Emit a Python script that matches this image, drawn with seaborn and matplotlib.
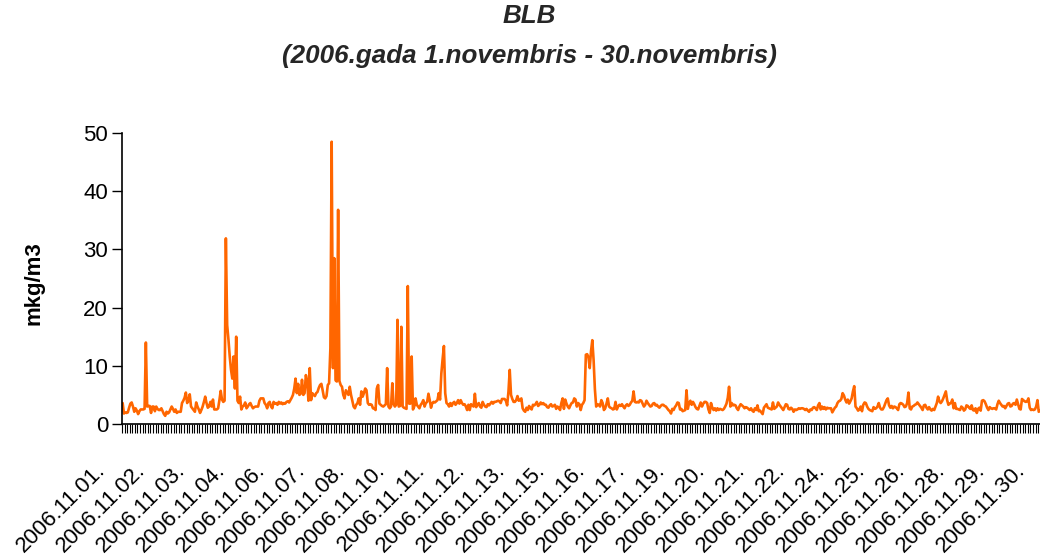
import numpy as np
import pandas as pd
import matplotlib
matplotlib.use("Agg")
import matplotlib.pyplot as plt
import matplotlib.transforms as mtransforms
from matplotlib.ticker import FixedLocator
import seaborn as sns

title_line1 = "BLB"
title_line2 = "(2006.gada 1.novembris - 30.novembris)"
y_label = "mkg/m3"
n_hours = 720
label_interval = 31
y_ticks = [0, 10, 20, 30, 40, 50]
tick_labels = ["2006.11.01.", "2006.11.02.", "2006.11.03.", "2006.11.04.", "2006.11.06.",
               "2006.11.07.", "2006.11.08.", "2006.11.10.", "2006.11.11.", "2006.11.12.",
               "2006.11.13.", "2006.11.15.", "2006.11.16.", "2006.11.17.", "2006.11.19.",
               "2006.11.20.", "2006.11.21.", "2006.11.22.", "2006.11.24.", "2006.11.25.",
               "2006.11.26.", "2006.11.28.", "2006.11.29.", "2006.11.30."]

# hourly concentration values (visible part of the series)
concentration = [
    3.6, 1.8, 2.0, 1.9, 2.0, 2.8, 3.5, 3.7, 3.0, 2.1, 2.7, 2.3, 1.7, 2.2, 2.5, 2.5, 2.5, 2.6, 14.0, 3.0, 3.1, 3.1, 1.9, 3.0,
    3.0, 2.2, 3.0, 2.6, 2.4, 2.4, 2.7, 2.2, 1.7, 1.4, 2.1, 1.8, 2.0, 2.5, 3.0, 2.6, 2.1, 2.5, 1.9, 2.1, 2.1, 2.1, 3.6,
    4.0, 4.5, 5.4, 3.6, 4.0, 5.1, 3.0, 2.7, 2.4, 2.1, 3.7, 3.0, 2.5, 1.9, 2.4, 3.0, 3.8, 4.7, 3.6, 2.8, 3.0, 3.8, 3.0, 4.2,
    2.5, 2.5, 2.5, 2.7, 4.1, 5.7, 4.2, 3.8, 4.0, 31.9, 17.0, 14.5, 11.6, 9.3, 7.8, 11.6, 6.1, 15.0, 4.0, 3.6, 4.7, 2.5, 3.0, 3.2,
    3.7, 2.7, 3.0, 3.4, 3.6, 3.1, 2.7, 2.9, 3.0, 3.0, 3.0, 4.0, 4.4, 4.4, 4.4, 3.6, 3.3, 2.7, 3.6, 3.8, 3.0, 2.7, 3.8, 3.5,
    3.6, 3.3, 3.8, 3.5, 3.7, 3.4, 3.6, 3.5, 3.8, 3.9, 3.7, 4.1, 4.5, 5.0, 6.1, 7.8, 5.3, 6.9, 5.0, 5.2, 7.6, 5.0, 5.3,
    8.4, 7.5, 4.0, 9.6, 4.1, 5.3, 5.0, 4.8, 5.3, 5.5, 6.2, 6.7, 6.9, 5.8, 4.6, 4.4, 4.8, 6.7, 7.0, 13.0, 48.5, 9.6, 28.5, 7.5,
    7.3, 36.8, 7.4, 6.7, 6.4, 5.0, 4.4, 5.8, 5.4, 5.0, 6.4, 5.0, 4.0, 3.0, 2.7, 3.3, 3.6, 4.4, 3.3, 5.6, 4.7, 5.3, 6.1, 5.8,
    3.6, 3.3, 3.4, 3.3, 2.7, 2.7, 2.4, 6.1, 6.7, 3.5, 3.3, 3.1, 3.0, 3.2, 3.4, 9.6, 3.0, 2.7, 3.0, 7.0, 3.4, 3.0, 3.3,
    17.9, 3.0, 3.1, 16.7, 3.0, 2.8, 2.7, 2.6, 23.7, 3.5, 3.5, 11.6, 2.5, 3.0, 4.4, 3.3, 3.0, 2.7, 3.3, 3.6, 4.1, 3.0, 3.6, 3.8,
    5.2, 4.1, 2.8, 3.6, 3.8, 3.7, 3.9, 4.1, 5.3, 4.2, 8.7, 11.2, 13.4, 5.3, 3.6, 3.4, 3.0, 3.6, 3.1, 3.6, 3.8, 3.3, 3.6, 4.1,
    3.5, 4.1, 3.6, 3.3, 3.4, 3.0, 2.4, 3.3, 2.4, 3.4, 3.2, 3.0, 5.2, 2.9, 3.3, 3.6, 3.0, 2.8, 3.8, 3.3, 3.0, 2.9, 3.4, 3.2,
    3.5, 3.8, 3.5, 3.8, 3.8, 3.9, 4.0, 3.9, 3.6, 4.3, 4.3, 4.3, 4.0, 3.2, 5.5, 9.3, 5.0, 4.3, 3.8, 3.8, 4.1, 4.8, 4.0,
    4.1, 4.4, 2.7, 2.3, 2.1, 2.8, 2.4, 3.1, 2.7, 2.5, 3.3, 3.2, 3.4, 3.8, 3.1, 3.3, 3.7, 3.4, 3.6, 3.3, 3.3, 2.9, 2.8, 3.2,
    3.4, 3.0, 3.1, 3.3, 2.6, 3.0, 2.8, 2.4, 3.6, 4.4, 2.6, 4.2, 3.5, 3.0, 2.7, 3.2, 3.6, 3.7, 4.4, 4.2, 3.0, 3.6, 3.4, 2.4,
    3.3, 3.6, 4.1, 11.9, 12.0, 11.5, 9.6, 12.5, 14.4, 11.0, 6.0, 3.0, 3.4, 3.3, 3.0, 4.1, 3.6, 2.4, 2.7, 3.5, 4.4, 3.0, 2.8,
    2.7, 2.5, 2.6, 3.8, 2.5, 3.0, 3.3, 3.1, 3.4, 3.0, 2.7, 3.2, 3.4, 3.1, 3.3, 3.7, 4.0, 5.6, 3.8, 3.7, 3.8, 3.7, 4.1, 4.0,
    3.5, 3.0, 3.3, 4.0, 3.6, 3.3, 3.0, 3.1, 3.5, 3.6, 3.2, 3.3, 3.0, 2.8, 3.1, 3.3, 3.3, 3.1, 3.0, 2.7, 2.4, 2.2, 1.8, 2.6,
    2.4, 2.9, 3.2, 3.7, 3.6, 2.5, 2.6, 2.2, 2.3, 2.4, 5.8, 2.6, 3.6, 4.0, 3.3, 3.8, 3.4, 2.9, 2.6, 2.5, 3.1, 3.7, 3.0, 3.5,
    3.8, 3.8, 3.6, 2.5, 1.9, 3.6, 2.8, 2.4, 2.7, 2.3, 2.7, 2.4, 2.6, 2.5, 2.4, 2.6, 3.0, 3.5, 4.5, 6.4, 3.0, 3.6, 3.2,
    3.3, 3.2, 2.7, 2.4, 3.0, 3.4, 3.2, 3.0, 2.7, 2.9, 2.8, 2.6, 2.4, 2.7, 2.3, 2.1, 2.7, 2.4, 3.2, 2.2, 2.3, 2.0, 1.7, 2.8,
    3.1, 3.4, 2.8, 2.7, 2.6, 2.5, 3.7, 2.6, 2.8, 3.0, 3.7, 3.3, 3.0, 2.7, 2.4, 2.9, 3.4, 3.3, 2.6, 2.5, 2.8, 2.6, 2.1, 2.5,
    2.4, 2.5, 2.7, 2.6, 2.7, 2.7, 2.6, 2.4, 2.6, 2.3, 2.1, 2.5, 2.4, 2.8, 2.9, 2.7, 2.4, 3.2, 3.6, 2.5, 3.0, 2.6, 2.9,
    2.5, 2.8, 2.7, 2.7, 2.7, 2.0, 2.4, 2.8, 3.0, 3.6, 3.9, 4.0, 4.3, 5.3, 4.9, 4.2, 3.7, 4.2, 3.5, 3.9, 4.4, 5.6, 6.5, 3.0,
    2.7, 2.3, 2.5, 3.0, 2.2, 3.3, 3.7, 3.6, 3.0, 2.6, 2.4, 2.3, 2.2, 2.9, 2.6, 2.7, 3.0, 3.6, 2.8, 2.5, 2.5, 2.9, 3.5, 4.1,
    4.4, 3.2, 2.8, 3.1, 2.7, 3.0, 2.9, 2.7, 2.4, 3.4, 3.6, 3.5, 3.3, 2.9, 3.0, 3.6, 5.4, 2.7, 2.5, 3.0, 3.1, 3.3, 3.4, 3.7,
    3.4, 3.1, 2.8, 2.4, 3.2, 3.3, 2.8, 2.5, 2.9, 2.5, 2.3, 2.6, 2.4, 3.0, 3.6, 4.7, 3.9, 3.6, 3.9, 4.4, 5.0, 5.6, 4.1,
    3.3, 3.5, 3.6, 4.2, 2.7, 3.6, 2.6, 2.6, 2.5, 2.4, 3.0, 2.8, 2.3, 2.5, 3.2, 3.1, 2.8, 2.6, 3.2, 2.4, 2.3, 2.7, 1.9, 2.6,
    2.8, 2.3, 4.0, 4.1, 3.9, 3.4, 2.8, 2.4, 2.9, 2.7, 2.6, 2.7, 2.7, 2.5, 3.4, 4.0, 3.6, 3.3, 3.0, 3.1, 2.7, 3.1, 3.5, 3.6,
    3.0, 3.1, 3.5, 3.6, 3.3, 4.2, 3.4, 2.6, 2.5, 4.3, 4.1, 3.9, 3.8, 3.9, 4.4, 2.8, 2.4, 2.5, 2.4, 2.5, 3.0, 4.1, 2.1, 2.3,
]

df = pd.DataFrame({"hour": np.arange(len(concentration)), "value": concentration})

sns.set_theme(style="white")
plt.rcParams["font.family"] = ["Liberation Sans", "DejaVu Sans"]

fig = plt.figure(figsize=(10.4, 5.58), dpi=100)
ax = fig.add_axes([122 / 1040, 1 - 424 / 558, 929 / 1040, 291 / 558])

sns.lineplot(data=df, x="hour", y="value", ax=ax, color="#FF6600", linewidth=1.9)

ax.set_xlim(-0.5, n_hours - 0.5)
ax.set_ylim(0, 50)
ax.set_yticks(y_ticks)
ax.set_yticklabels([str(t) for t in y_ticks], fontsize=16, color="black")
ax.tick_params(axis="y", direction="out", length=7, width=1, color="black", pad=3, left=True)

label_pos = list(range(0, n_hours, label_interval))[:len(tick_labels)]
ax.set_xticks(label_pos)
ax.set_xticklabels(tick_labels, fontsize=16, color="black")
ax.xaxis.set_minor_locator(FixedLocator(np.arange(-0.5, n_hours, 2)))
ax.tick_params(axis="x", which="major", length=0, pad=34)
ax.tick_params(axis="x", which="minor", direction="out", length=6.5, width=0.8, color="black", bottom=True)

offset = mtransforms.ScaledTranslation(-17 / 100, 0, fig.dpi_scale_trans)
for lab in ax.get_xticklabels():
    lab.set_rotation(45)
    lab.set_ha("right")
    lab.set_va("baseline")
    lab.set_rotation_mode("anchor")
    lab.set_transform(lab.get_transform() + offset)

for s in ["top", "right"]:
    ax.spines[s].set_visible(False)
for s in ["left", "bottom"]:
    ax.spines[s].set_color("black")
    ax.spines[s].set_linewidth(1.2)

ax.set_xlabel("")
ax.set_ylabel(y_label, fontsize=16, fontweight="bold", color="black")
ax.yaxis.set_label_coords(-77 / 929, 0.485)
ax.grid(False)

fig.text(529.5 / 1040, 1 - 16 / 558, title_line1, ha="center", va="center",
         fontsize=18.7, fontweight="bold", fontstyle="italic")
fig.text(529.5 / 1040, 1 - 56 / 558, title_line2, ha="center", va="center",
         fontsize=18.7, fontweight="bold", fontstyle="italic")

fig.savefig("out.png", dpi=100)
